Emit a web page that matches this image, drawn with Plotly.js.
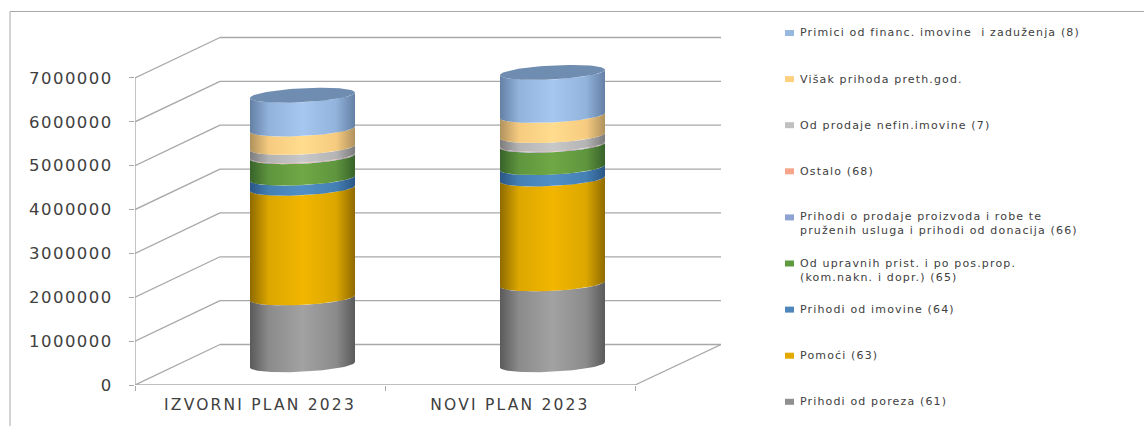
<!DOCTYPE html>
<html>
<head>
<meta charset="utf-8">
<script src="https://cdn.plot.ly/plotly-3.0.1.min.js"></script>
<style>
html,body{margin:0;padding:0;background:#fff}
#chart{width:1144px;height:426px}
#chart .annotation-text{letter-spacing:1.15px}
#chart .ytick text{letter-spacing:1.45px}
#chart .xtick text{letter-spacing:2.2px}
</style>
</head>
<body>
<div id="chart"></div>
<script>
const categories = ["IZVORNI PLAN 2023", "NOVI PLAN 2023"];
const yTicks = [0, 1000000, 2000000, 3000000, 4000000, 5000000, 6000000, 7000000];

const porez61    = [1525000, 1845000];
const pomoci63   = [2500000, 2390000];
const imovina64  = [230000, 260000];
const upravne65  = [490000, 510000];
const prodaja66  = [10000, 10000];
const ostalo68   = [10000, 10000];
const nefin7     = [190000, 200000];
const visak      = [420000, 460000];
const primici8   = [770000, 980000];

const series = [
  {name:"Prihodi od poreza (61)", values:porez61, edge:"#5a5a5a", mid:"#8b8b8b", light:"#a2a2a2", swatch:"#8f8f8f"},
  {name:"Pomoći (63)", values:pomoci63, edge:"#8f6a00", mid:"#dca700", light:"#f2b600", swatch:"#e3a900"},
  {name:"Prihodi od imovine (64)", values:imovina64, edge:"#2a5685", mid:"#4580b4", light:"#508fc6", swatch:"#4f87bc"},
  {name:"Od upravnih prist. i po pos.prop.<br>(kom.nakn. i dopr.) (65)", values:upravne65, edge:"#38632a", mid:"#5f953e", light:"#70a845", swatch:"#5f9a3e"},
  {name:"Prihodi o prodaje proizvoda i robe te<br>pruženih usluga i prihodi od donacija (66)", values:prodaja66, edge:"#5f6f9a", mid:"#8a9dcc", light:"#97aad8", swatch:"#8fa2d4"},
  {name:"Ostalo (68)", values:ostalo68, edge:"#a8705a", mid:"#e89c80", light:"#f4a98e", swatch:"#f4a58a"},
  {name:"Od prodaje nefin.imovine (7)", values:nefin7, edge:"#7c7c7c", mid:"#b4b4b4", light:"#c8c8c8", swatch:"#c0c0c0"},
  {name:"Višak prihoda preth.god.", values:visak, edge:"#b0925e", mid:"#f6cb80", light:"#ffdc8e", swatch:"#ffd080"},
  {name:"Primici od financ. imovine  i zaduženja (8)", values:primici8, edge:"#6580a5", mid:"#91b3dc", light:"#a5c7f0", swatch:"#97b9e0"}
];
const capColor = "#6f8db0";

// page geometry (pixels)
const W = 1144, H = 426;
const L = 135, R = 721, T = 30, B = 385;
const pxPerUnit = 43.86 / 1000000;
const pxPerCat = 250;
const gridColor = "#a8a8a8";

const yMax = (B - T) / pxPerUnit;
const xMin = -0.5, xMax = xMin + (R - L) / pxPerCat;
const dXpx = 85, dYpx = 40.5;
const dX = dXpx / pxPerCat, dY = dYpx / pxPerUnit;
const paperX = p => (p - L) / (R - L);
const paperY = p => (B - p) / (B - T);

// cylinders sit midway through the floor depth
const shiftX = 0.17, shiftY = dY / 2;
const halfW = 52.5 / pxPerCat, ellB = 7 / pxPerUnit, ellS = 2.7 / pxPerUnit;

function frontArc(cx, v, reverse) {
  const xs = [], ys = [];
  const N = 40;
  for (let i = 0; i <= N; i++) {
    const k = reverse ? N - i : i;
    const t = Math.PI + Math.PI * k / N;
    xs.push(cx + halfW * Math.cos(t));
    ys.push(v + ellB * Math.sin(t) + ellS * Math.cos(t));
  }
  return [xs, ys];
}

const traces = [];
const cum = [0, 0];
series.forEach(s => {
  s.values.forEach((val, c) => {
    const cx = c + shiftX;
    const lo = cum[c] + shiftY, hi = lo + val;
    const [x1, y1] = frontArc(cx, lo, false);
    const [x2, y2] = frontArc(cx, hi, true);
    traces.push({
      type: "scatter", mode: "lines", showlegend: false,
      name: s.name.replace("<br>", " "),
      x: x1.concat(x2), y: y1.concat(y2),
      fill: "toself", line: {width: 0},
      fillgradient: {type: "horizontal", colorscale: [
        [0, s.edge], [0.18, s.mid], [0.5, s.light], [0.82, s.mid], [1, s.edge]
      ]},
      hoverinfo: "name"
    });
    cum[c] += val;
  });
});
cum.forEach((total, c) => {
  const cx = c + shiftX, v = total + shiftY;
  const [x1, y1] = frontArc(cx, v, false);
  const x2 = x1.map(x => 2 * cx - x), y2 = y1.map(y => 2 * v - y);
  traces.push({
    type: "scatter", mode: "lines", showlegend: false, hoverinfo: "skip",
    x: x1.concat(x2), y: y1.concat(y2),
    fill: "toself", fillcolor: capColor, line: {width: 0}
  });
});

const lineStyle = {color: gridColor, width: 1.3};
const shapes = [];
yTicks.forEach(v => {
  shapes.push({type: "line", xref: "x", yref: "y", layer: "below", x0: xMin, x1: xMin + dX, y0: v, y1: v + dY, line: lineStyle});
  shapes.push({type: "line", xref: "x", yref: "y", layer: "below", x0: xMin + dX, x1: xMax, y0: v + dY, y1: v + dY, line: lineStyle});
});
const nCat = categories.length;
shapes.push({type: "line", xref: "x", yref: "y", layer: "below", x0: xMin, x1: xMin, y0: 0, y1: yTicks[yTicks.length - 1], line: lineStyle});
shapes.push({type: "line", xref: "x", yref: "y", layer: "below", x0: xMin, x1: xMin + nCat, y0: 0, y1: 0, line: lineStyle});
shapes.push({type: "line", xref: "x", yref: "y", layer: "below", x0: xMin + nCat, x1: xMin + nCat + dX * (86 / 85), y0: 0, y1: dY, line: lineStyle});
// outer frame: top and left edges only
shapes.push({type: "line", xref: "paper", yref: "paper", x0: paperX(10), x1: paperX(W), y0: paperY(11.5), y1: paperY(11.5), line: {color: "#a8a8a8", width: 1}});
shapes.push({type: "line", xref: "paper", yref: "paper", x0: paperX(10), x1: paperX(10), y0: paperY(11.5), y1: paperY(H), line: {color: "#a8a8a8", width: 1}});

// legend, top row first
const annotations = [];
const legendOrder = series.slice().reverse();
const rowTop = 33, rowStep = 46.1, lineH = 13;
legendOrder.forEach((s, i) => {
  const cy = rowTop + rowStep * i;
  shapes.push({type: "rect", xref: "paper", yref: "paper", x0: paperX(785), x1: paperX(794), y0: paperY(cy - 3), y1: paperY(cy + 3), fillcolor: s.swatch, line: {width: 0}});
  const twoLines = s.name.indexOf("<br>") >= 0;
  annotations.push({
    xref: "paper", yref: "paper", showarrow: false, xanchor: "left", yanchor: "middle", align: "left",
    x: paperX(797.5), y: paperY(twoLines ? cy + lineH / 2 : cy),
    text: s.name, font: {family: "DejaVu Sans", size: 11, color: "#404040"}
  });
});

const layout = {
  width: W, height: H,
  margin: {l: L, r: W - R, t: T, b: H - B, pad: 0},
  paper_bgcolor: "#fff", plot_bgcolor: "rgba(0,0,0,0)",
  showlegend: false,
  xaxis: {
    range: [xMin, xMax], showgrid: false, zeroline: false, showline: false,
    tickmode: "array", tickvals: [0, 1], ticktext: categories, ticks: "", ticklabelstandoff: 8,
    tickfont: {family: "DejaVu Sans", size: 15.5, color: "#404040"},
    minor: {tickmode: "array", tickvals: [-0.5, 0.5, 1.5], ticks: "outside", ticklen: 5, tickcolor: gridColor, showgrid: false}
  },
  yaxis: {
    range: [0, yMax], showgrid: false, zeroline: false, showline: false,
    tickmode: "array", tickvals: yTicks, ticktext: yTicks.map(String),
    ticks: "outside", ticklen: 5, tickcolor: gridColor, ticklabelstandoff: 13,
    tickfont: {family: "DejaVu Sans", size: 16.5, color: "#404040"}
  },
  shapes, annotations
};
Plotly.newPlot("chart", traces, layout, {displayModeBar: false});
</script>
</body>
</html>
